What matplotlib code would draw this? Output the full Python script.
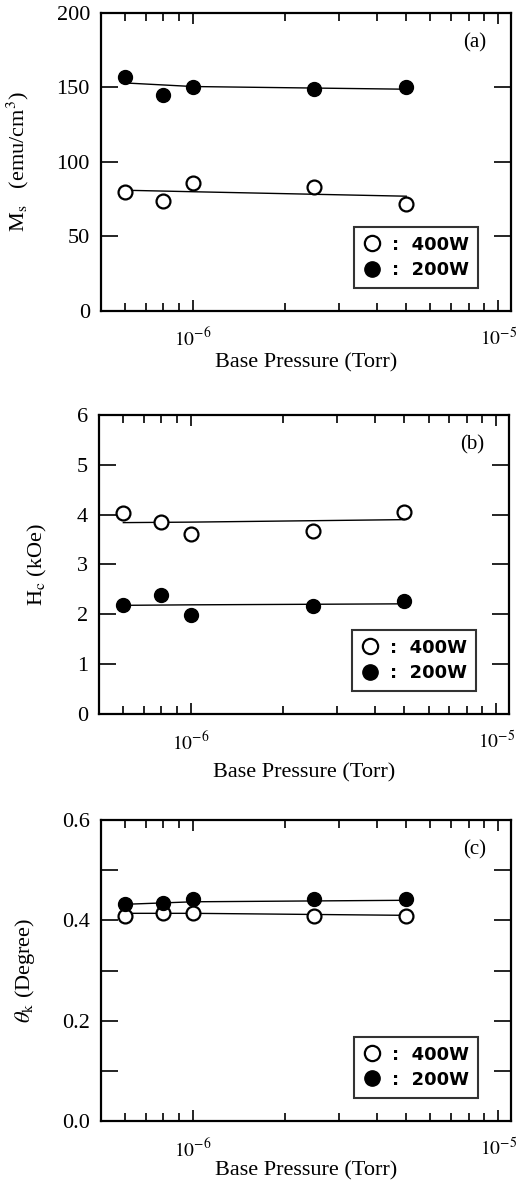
import numpy as np
import matplotlib.pyplot as plt
from matplotlib.ticker import LogLocator, NullFormatter, FixedLocator, MultipleLocator
from matplotlib.lines import Line2D

plt.rcParams['font.family'] = 'Liberation Serif'
plt.rcParams['mathtext.fontset'] = 'stix'

# base pressure (Torr)
pressure = [6e-7, 8e-7, 1e-6, 2.5e-6, 5e-6]

# (a) saturation magnetization
ms_400 = [80, 74, 86, 83, 72]
ms_200 = [157, 145, 150, 149, 150]
# (b) coercivity
hc_400 = [4.03, 3.85, 3.62, 3.68, 4.05]
hc_200 = [2.18, 2.39, 1.99, 2.17, 2.26]
# (c) Kerr rotation
tk_400 = [0.408, 0.414, 0.415, 0.408, 0.408]
tk_200 = [0.432, 0.434, 0.442, 0.442, 0.442]

# guide lines
fit_x = [6e-7, 1e-6, 5e-6]
fit_ms_400 = [81, 80, 77]
fit_ms_200 = [153, 150.6, 148.8]
fit_hc_400 = [3.84, 3.85, 3.90]
fit_hc_200 = [2.18, 2.19, 2.21]
fit_tk_400 = [0.414, 0.414, 0.410]
fit_tk_200 = [0.432, 0.437, 0.440]

panels = [
    dict(o=ms_400, f=ms_200, fo=fit_ms_400, ff=fit_ms_200, ylim=(0, 200),
         major=50, minor=None, ylabel=r'M$_{\rm s}$   (emu/cm$^3$)', tag='(a)',
         rect=[0.1935, 0.7376, 0.785, 0.2515], fmt='{:.0f}', ylx=-0.17, xlp=2),
    dict(o=hc_400, f=hc_200, fo=fit_hc_400, ff=fit_hc_200, ylim=(0, 6),
         major=1, minor=None, ylabel=r'H$_{\rm c}$ (kOe)', tag='(b)',
         rect=[0.19, 0.3975, 0.785, 0.2523], fmt='{:.0f}', ylx=-0.122, xlp=7),
    dict(o=tk_400, f=tk_200, fo=fit_tk_400, ff=fit_tk_200, ylim=(0, 0.6),
         major=0.2, minor=0.1, ylabel=r'$\theta_{\rm k}$ (Degree)', tag='(c)',
         rect=[0.1935, 0.054, 0.785, 0.254], fmt='{:.1f}', ylx=-0.156, xlp=1),
]

fig = plt.figure(figsize=(5.22, 11.85), dpi=100)

for p in panels:
    ax = fig.add_axes(p['rect'])
    ax.set_xscale('log')
    ax.plot(fit_x, p['fo'], color='black', lw=1.0)
    ax.plot(fit_x, p['ff'], color='black', lw=1.0)
    ax.plot(pressure, p['o'], 'o', ms=10, mfc='white', mec='black', mew=1.6)
    ax.plot(pressure, p['f'], 'o', ms=10, mfc='black', mec='black')
    ax.set_xlim(5e-7, 1.1e-5)
    ax.set_ylim(*p['ylim'])

    ax.xaxis.set_major_locator(FixedLocator([1e-6, 1e-5]))
    ax.set_xticklabels([r'$10^{-6}$', r'$10^{-5}$'])
    ax.xaxis.set_minor_locator(LogLocator(base=10, subs=np.arange(2, 10)))
    ax.xaxis.set_minor_formatter(NullFormatter())
    ax.yaxis.set_major_locator(MultipleLocator(p['major']))
    if p['minor']:
        ax.yaxis.set_minor_locator(MultipleLocator(p['minor']))
    ax.set_yticklabels([p['fmt'].format(v) for v in ax.get_yticks()])

    ax.tick_params(axis='both', which='both', direction='in', top=True, right=True,
                   width=1.2, colors='black')
    ax.tick_params(axis='y', which='both', length=12, labelsize=16, pad=8)
    ax.tick_params(axis='x', which='major', length=8, labelsize=14, pad=12)
    ax.tick_params(axis='x', which='minor', length=6)
    for s in ax.spines.values():
        s.set_linewidth(1.6)

    ax.set_xlabel('Base Pressure (Torr)', fontsize=16, labelpad=p['xlp'])
    ax.set_ylabel(p['ylabel'], fontsize=16)
    ax.yaxis.set_label_coords(p['ylx'], 0.5)
    ax.text(0.94, 0.9, p['tag'], transform=ax.transAxes, fontsize=15,
            ha='right', va='center')

    handles = [Line2D([], [], ls='none', marker='o', ms=11, mfc='white', mec='black', mew=1.6),
               Line2D([], [], ls='none', marker='o', ms=11, mfc='black', mec='black')]
    leg = ax.legend(handles, [':  400W', ':  200W'], loc='lower right',
                    bbox_to_anchor=(0.92, 0.077), borderaxespad=0, frameon=True, fancybox=False,
                    edgecolor='black', prop=dict(family='DejaVu Sans', weight='bold', size=13),
                    handletextpad=0.6, handlelength=1.0, borderpad=0.5, labelspacing=0.4)
    leg.get_frame().set_linewidth(1.5)

fig.savefig('out.png', dpi=100)
